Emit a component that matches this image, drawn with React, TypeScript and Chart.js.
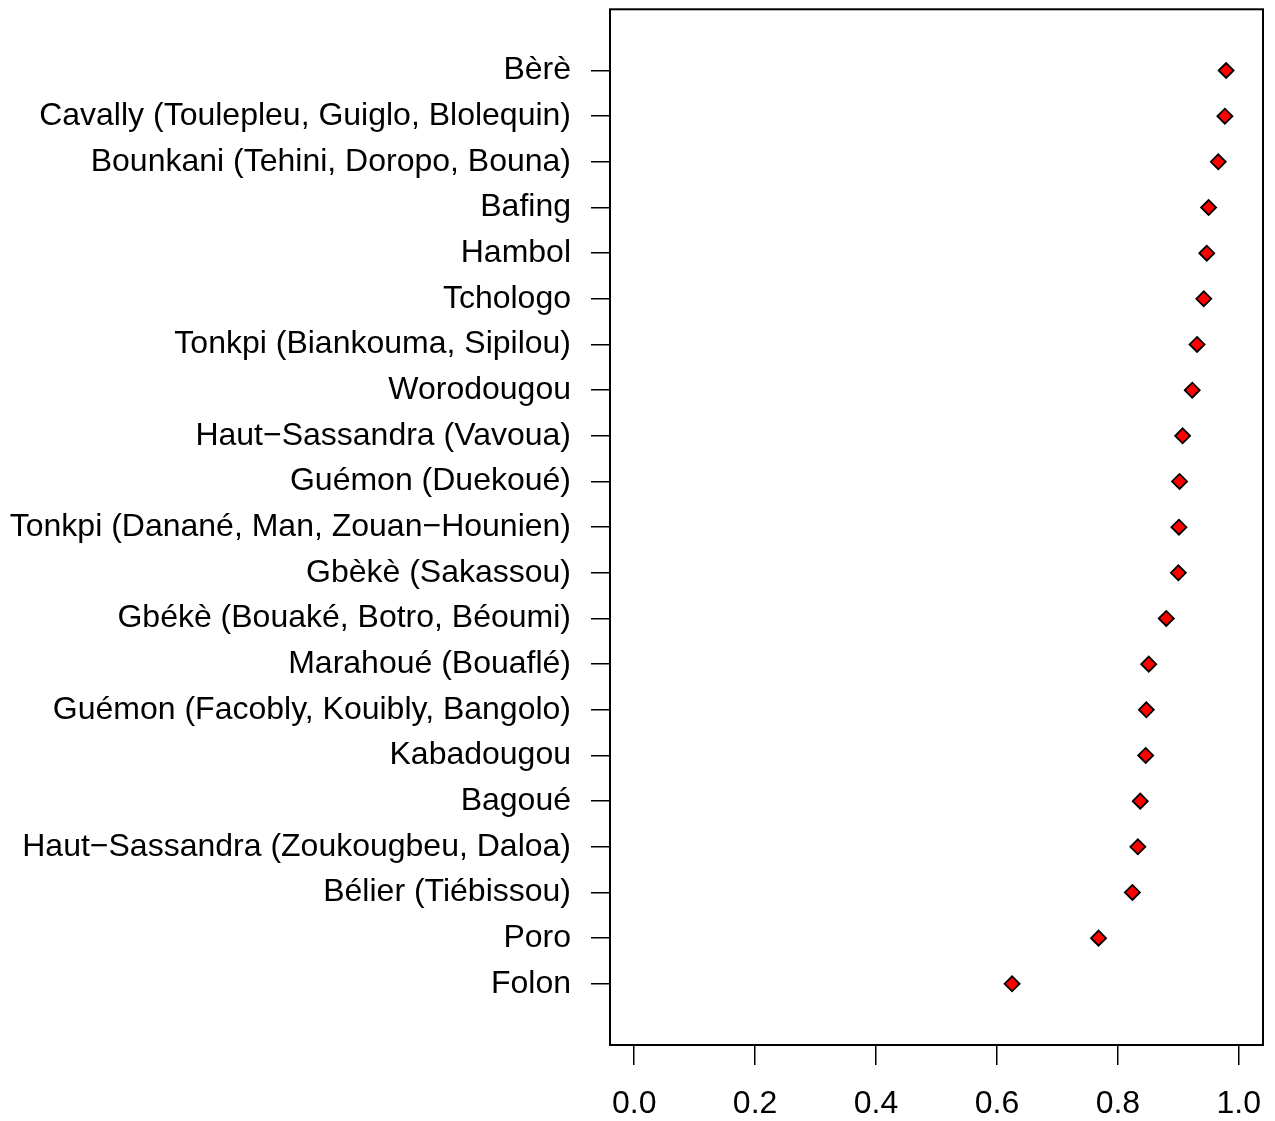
import React, { useEffect, useRef } from "react";
import { Chart, registerables } from "chart.js";

Chart.register(...registerables);

const categories: string[] = [
  "Bèrè",
  "Cavally (Toulepleu, Guiglo, Blolequin)",
  "Bounkani (Tehini, Doropo, Bouna)",
  "Bafing",
  "Hambol",
  "Tchologo",
  "Tonkpi (Biankouma, Sipilou)",
  "Worodougou",
  "Haut−Sassandra (Vavoua)",
  "Guémon (Duekoué)",
  "Tonkpi (Danané, Man, Zouan−Hounien)",
  "Gbèkè (Sakassou)",
  "Gbékè (Bouaké, Botro, Béoumi)",
  "Marahoué (Bouaflé)",
  "Guémon (Facobly, Kouibly, Bangolo)",
  "Kabadougou",
  "Bagoué",
  "Haut−Sassandra (Zoukougbeu, Daloa)",
  "Bélier (Tiébissou)",
  "Poro",
  "Folon",
];

const values: number[] = [
  0.979, 0.977, 0.966, 0.95, 0.947, 0.942, 0.931, 0.923, 0.907, 0.902, 0.901,
  0.9, 0.88, 0.851, 0.847, 0.846, 0.837, 0.833, 0.824, 0.768, 0.625,
];

const xTicks: number[] = [0, 0.2, 0.4, 0.6, 0.8, 1.0];

const FONT = "'Liberation Sans', Arial, Helvetica, sans-serif";

export default function App() {
  const ref = useRef<HTMLCanvasElement | null>(null);

  useEffect(() => {
    if (!ref.current) return;
    const n = categories.length;
    const points = values.map((v, i) => ({ x: v, y: n - i }));

    const boxPlugin = {
      id: "boxPlugin",
      afterDraw(chart: any) {
        const { ctx, chartArea } = chart;
        ctx.save();
        ctx.strokeStyle = "#000";
        ctx.lineWidth = 2;
        ctx.strokeRect(
          chartArea.left,
          chartArea.top,
          chartArea.right - chartArea.left,
          chartArea.bottom - chartArea.top
        );
        ctx.restore();
      },
    };

    const chart = new Chart(ref.current, {
      type: "scatter",
      data: {
        datasets: [
          {
            data: points,
            pointStyle: "rectRot",
            pointRadius: 7.5,
            pointBackgroundColor: "#ff0000",
            pointBorderColor: "#000000",
            pointBorderWidth: 1.8,
            showLine: false,
          },
        ],
      },
      options: {
        animation: false,
        responsive: false,
        maintainAspectRatio: false,
        layout: { padding: { top: 8, right: 12, left: 0, bottom: 0 } },
        plugins: {
          legend: { display: false },
          tooltip: { enabled: false },
        },
        scales: {
          x: {
            type: "linear",
            min: -0.04,
            max: 1.04,
            afterBuildTicks: (scale: any) => {
              scale.ticks = xTicks.map((v) => ({ value: v }));
            },
            afterFit: (scale: any) => {
              scale.height = 76;
              scale.paddingLeft = 0;
              scale.paddingRight = 0;
            },
            border: { display: false },
            grid: {
              drawOnChartArea: false,
              drawTicks: true,
              tickLength: 20,
              color: "#000",
              lineWidth: 1.5,
            },
            ticks: {
              color: "#000",
              font: { family: FONT, size: 32 },
              padding: 20,
              maxRotation: 0,
              autoSkip: false,
              callback: (v: any) => Number(v).toFixed(1),
            },
          },
          y: {
            type: "linear",
            min: 0.5 - 0.84,
            max: n + 0.5 + 0.84,
            afterBuildTicks: (scale: any) => {
              scale.ticks = categories.map((_, i) => ({ value: n - i }));
            },
            afterFit: (scale: any) => {
              scale.width = 610;
              scale.paddingTop = 0;
              scale.paddingBottom = 0;
            },
            border: { display: false },
            grid: {
              drawOnChartArea: false,
              drawTicks: true,
              tickLength: 19,
              color: "#000",
              lineWidth: 1.5,
            },
            ticks: {
              color: "#000",
              font: { family: FONT, size: 32 },
              padding: 20,
              autoSkip: false,
              callback: (v: any) => {
                const idx = n - Math.round(Number(v));
                return categories[idx] ?? "";
              },
            },
          },
        },
      },
      plugins: [boxPlugin],
    } as any);

    return () => chart.destroy();
  }, []);

  return (
    <div
      style={{
        position: "fixed",
        left: 0,
        top: 0,
        width: 1275,
        height: 1121,
        background: "#fff",
      }}
    >
      <canvas ref={ref} width={1275} height={1121} style={{ display: "block" }} />
    </div>
  );
}
